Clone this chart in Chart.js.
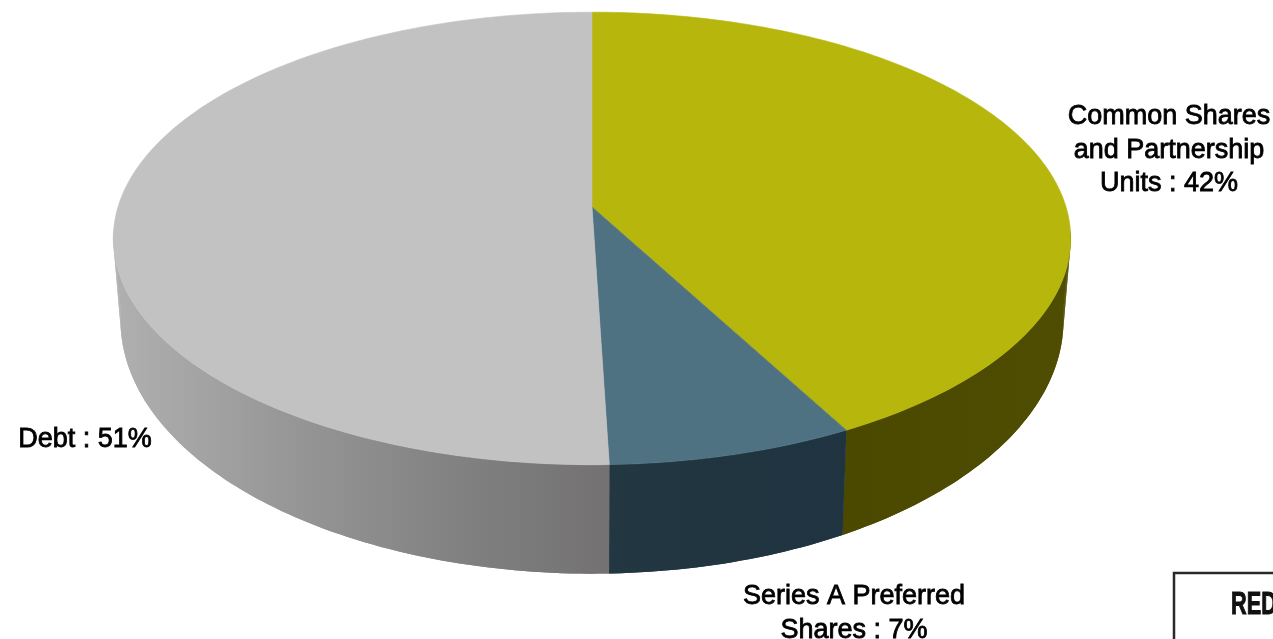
<!DOCTYPE html>
<html>
<head>
<meta charset="utf-8">
<title>Capital structure</title>
<script src="https://cdn.jsdelivr.net/npm/chart.js@4/dist/chart.umd.min.js"></script>
<style>
  html, body { margin: 0; padding: 0; background: #fff; overflow: hidden; }
  #wrap { width: 1273px; height: 639px; }
</style>
</head>
<body>
<div id="wrap"><canvas id="chartCanvas" width="1273" height="639"></canvas></div>
<script>
const categories = ['Common Shares and Partnership Units', 'Series A Preferred Shares', 'Debt'];
const shares = [42.2, 7.3, 50.5];
const topColors = ['#b6b60c', '#4f7282', '#c2c2c2'];
const wallColors = [
    ['#4b4900', '#4f4d02'],
    ['#233742', '#1f3340'],
    ['#b0b0b0', '#989898', '#838383', '#737171']
];
// anchor of each label: centre x and first baseline
const labelSpots = [[1169, 124], [854, 604], [85, 447]];

// how the flat pie is tipped back
const tilt = 0.139;
const stretchX = 2.29;
const stretchY = 1.072;
const labelFont = '500 27px "Liberation Sans", Arial, sans-serif';

function topPoint(el, deg) {
    const a = deg * Math.PI / 180;
    const d = 1 + tilt * Math.cos(a);
    return [
        el.x + el.outerRadius * stretchX * Math.sin(a) / d,
        el.y - el.outerRadius * stretchY * Math.cos(a) / d
    ];
}

function bottomPoint(el, deg) {
    const p = topPoint(el, deg);
    return [el.x + (p[0] - el.x) * 0.985, el.y + 78 + (p[1] - el.y) * 1.12];
}

function sliceDegrees(el, min, max) {
    const from = Math.max(el.startAngle * 180 / Math.PI + 90, min);
    const to = Math.min(el.endAngle * 180 / Math.PI + 90, max);
    const list = [];
    for (let d = from; d < to; d += 1) list.push(d);
    list.push(to);
    return list;
}

function wrapLabel(ctx, text, maxWidth) {
    const lines = [];
    let line = '';
    text.split(' ').forEach(word => {
        const next = line ? line + ' ' + word : word;
        if (line && ctx.measureText(next).width > maxWidth) {
            lines.push(line);
            line = word;
        } else {
            line = next;
        }
    });
    lines.push(line);
    return lines;
}

const pie3d = {
    id: 'pie3d',
    beforeDatasetDraw(chart, args) {
        const ctx = chart.ctx;
        const arcs = args.meta.data;

        // side walls first, only the part that faces the viewer
        arcs.forEach((el, i) => {
            const degs = sliceDegrees(el, 96, 264);
            const xs = degs.map(d => topPoint(el, d)[0]);
            const grad = ctx.createLinearGradient(Math.min(...xs), 0, Math.max(...xs), 0);
            wallColors[i].forEach((c, n) => grad.addColorStop(n / (wallColors[i].length - 1), c));
            ctx.fillStyle = grad;
            ctx.beginPath();
            degs.forEach(d => ctx.lineTo(...topPoint(el, d)));
            degs.slice().reverse().forEach(d => ctx.lineTo(...bottomPoint(el, d)));
            ctx.closePath();
            ctx.fill();
            // quads close the gap along the left and right silhouette
            for (let n = 0; n < degs.length - 1; n++) {
                ctx.beginPath();
                ctx.moveTo(...topPoint(el, degs[n]));
                ctx.lineTo(...topPoint(el, degs[n + 1]));
                ctx.lineTo(...bottomPoint(el, degs[n + 1]));
                ctx.lineTo(...bottomPoint(el, degs[n]));
                ctx.closePath();
                ctx.fill();
            }
        });

        arcs.forEach(el => {
            ctx.fillStyle = el.options.backgroundColor;
            ctx.strokeStyle = el.options.backgroundColor;
            ctx.lineWidth = 0.6;
            ctx.beginPath();
            ctx.moveTo(el.x, el.y);
            sliceDegrees(el, 0, 360).forEach(d => ctx.lineTo(...topPoint(el, d)));
            ctx.closePath();
            ctx.fill();
            ctx.stroke();
        });

        return false;
    },
    afterDatasetsDraw(chart) {
        const ctx = chart.ctx;
        const values = chart.data.datasets[0].data;
        ctx.save();
        ctx.font = labelFont;
        ctx.fillStyle = '#000';
        ctx.strokeStyle = '#000';
        ctx.lineWidth = 0.8;
        ctx.textAlign = 'center';
        chart.data.labels.forEach((name, i) => {
            const text = name + ' : ' + Math.round(values[i]) + '%';
            wrapLabel(ctx, text, 225).forEach((line, n) => {
                ctx.fillText(line, labelSpots[i][0], labelSpots[i][1] + n * 33.5);
                ctx.strokeText(line, labelSpots[i][0], labelSpots[i][1] + n * 33.5);
            });
        });

        // corner of the logo box, cut off by the page edge
        ctx.strokeStyle = '#2a2a2a';
        ctx.lineWidth = 2.5;
        ctx.beginPath();
        ctx.moveTo(1174, 645);
        ctx.lineTo(1174, 573);
        ctx.lineTo(1280, 573);
        ctx.stroke();
        ctx.translate(1231, 614);
        ctx.scale(0.7, 1);
        ctx.font = 'bold 31px "Liberation Sans", sans-serif';
        ctx.fillStyle = '#111';
        ctx.strokeStyle = '#111';
        ctx.lineWidth = 1;
        ctx.textAlign = 'left';
        ctx.fillText('RED', 0, 0);
        ctx.strokeText('RED', 0, 0);
        ctx.restore();
    }
};

new Chart(document.getElementById('chartCanvas'), {
    type: 'pie',
    data: {
        labels: categories,
        datasets: [{ data: shares, backgroundColor: topColors, borderWidth: 0 }]
    },
    options: {
        responsive: false,
        animation: false,
        layout: { padding: { left: 0, right: 89, top: 0, bottom: 225 } },
        plugins: { legend: { display: false }, tooltip: { enabled: false } }
    },
    plugins: [pie3d]
});
</script>
</body>
</html>
